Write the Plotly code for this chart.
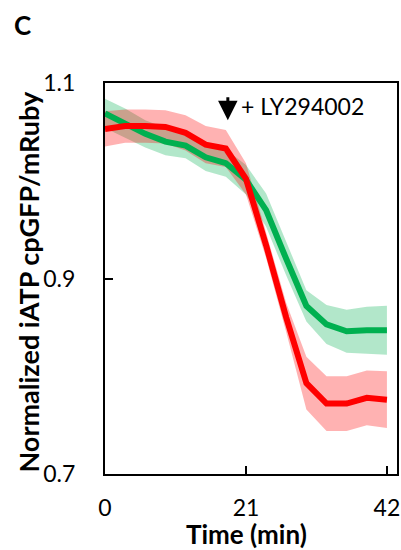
import plotly.graph_objects as go

time_min = [0, 3, 6, 9, 12, 15, 18, 21, 24, 27, 30, 33, 36, 39, 42]
green_mean = [1.069, 1.059, 1.048, 1.040, 1.036, 1.024, 1.018, 1.001, 0.970, 0.920, 0.872, 0.853, 0.846, 0.847, 0.847]
green_err = [0.015, 0.015, 0.014, 0.014, 0.013, 0.014, 0.014, 0.015, 0.017, 0.017, 0.016, 0.020, 0.022, 0.024, 0.025]
red_mean = [1.053, 1.056, 1.056, 1.055, 1.049, 1.037, 1.033, 1.002, 0.934, 0.860, 0.793, 0.772, 0.772, 0.778, 0.776]
red_err = [0.018, 0.017, 0.017, 0.017, 0.018, 0.019, 0.019, 0.016, 0.013, 0.015, 0.027, 0.028, 0.028, 0.028, 0.029]
x_ticks = [0, 21, 42]
y_ticks = [0.7, 0.9, 1.1]
y_tick_labels = ["0.7", "0.9", "1.1"]
treatment_label = "+ LY294002"
treatment_time = 18.3

FONT = "Lato, 'Open Sans', sans-serif"
GAP = "\u2002\u2002"  # fixed-width spaces to push y tick labels away from the axis

fig = go.Figure()

def band(mean, err, fill):
    upper = [m + e for m, e in zip(mean, err)]
    lower = [m - e for m, e in zip(mean, err)]
    fig.add_trace(go.Scatter(x=time_min + time_min[::-1], y=upper + lower[::-1],
                             fill="toself", fillcolor=fill, line=dict(width=0),
                             mode="lines", hoverinfo="skip", showlegend=False))

band(green_mean, green_err, "rgba(0,176,80,0.3)")
band(red_mean, red_err, "rgba(255,0,0,0.3)")

fig.add_trace(go.Scatter(x=time_min, y=green_mean, mode="lines",
                         line=dict(color="#00B050", width=6), showlegend=False))
fig.add_trace(go.Scatter(x=time_min, y=red_mean, mode="lines",
                         line=dict(color="#FF0000", width=6), showlegend=False))

fig.update_layout(
    width=401, height=550,
    margin=dict(l=105, r=4, t=83, b=76),
    plot_bgcolor="white", paper_bgcolor="white",
    font=dict(family=FONT, size=23, color="black"),
    xaxis=dict(range=[0, 43.5], tickvals=x_ticks, ticktext=[str(v) for v in x_ticks],
               ticks="inside", ticklen=8, tickwidth=2, tickcolor="black",
               showline=True, linecolor="black", linewidth=2, mirror=True,
               showgrid=False, zeroline=False, ticklabelstandoff=12,
               automargin=False),
    yaxis=dict(range=[0.7, 1.1], tickvals=y_ticks,
               ticktext=[t + GAP for t in y_tick_labels],
               ticks="inside", ticklen=8, tickwidth=2, tickcolor="black",
               showline=True, linecolor="black", linewidth=2, mirror=True,
               showgrid=False, zeroline=False,
               automargin=False),
)

fig.add_annotation(x=treatment_time, y=1.062, ax=treatment_time, ay=1.087,
                   xref="x", yref="y", axref="x", ayref="y",
                   showarrow=True, arrowhead=2, arrowsize=1.3, arrowwidth=3,
                   arrowcolor="black", text="")
fig.add_annotation(x=20.0, y=1.076, xref="x", yref="y", text=treatment_label,
                   showarrow=False, xanchor="left", yanchor="middle",
                   font=dict(size=23, family=FONT))

fig.add_annotation(x=-0.262, y=0.491, xref="paper", yref="paper",
                   text="<b>Normalized iATP cpGFP/mRuby</b>", textangle=-90,
                   showarrow=False, xanchor="center", yanchor="middle",
                   font=dict(size=27, family=FONT))
fig.add_annotation(x=0.486, y=-0.153, xref="paper", yref="paper",
                   text="<b>Time (min)</b>", showarrow=False,
                   xanchor="center", yanchor="middle",
                   font=dict(size=26, family=FONT))
fig.add_annotation(x=-0.281, y=1.149, xref="paper", yref="paper",
                   text="<b>C</b>", showarrow=False,
                   xanchor="center", yanchor="middle",
                   font=dict(size=26, family=FONT))

fig.write_html(
    "out.html",
    config={"displayModeBar": False},
    post_script="document.body.style.margin='0px';document.body.style.overflow='hidden';",
)
